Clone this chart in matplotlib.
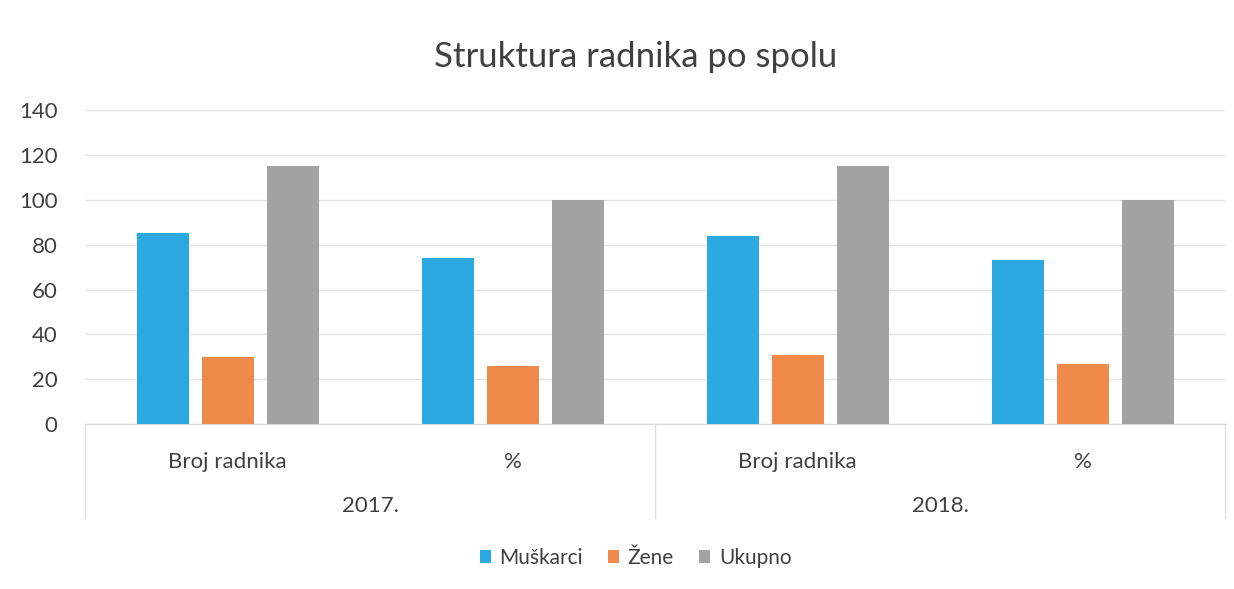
import matplotlib.pyplot as plt
import numpy as np

plt.rcParams['font.family'] = ['Lato', 'DejaVu Sans']

# data
years = ['2017.', '2018.']
categories = ['Broj radnika', '%', 'Broj radnika', '%']
series_names = ['Muškarci', 'Žene', 'Ukupno']
muskarci = [85, 74, 84, 73]
zene = [30, 26, 31, 27]
ukupno = [115, 100, 115, 100]
y_ticks = [0, 20, 40, 60, 80, 100, 120, 140]

colors = ['#2CA9E1', '#F08A4B', '#A3A3A3']
text_color = '#404040'

fig = plt.figure(figsize=(12.34, 5.89), dpi=100)
ax = fig.add_axes([0.069, 0.28, 0.924, 0.533])

x = np.arange(len(categories))
offset = 0.228
width = 0.183
for i, (vals, name) in enumerate(zip([muskarci, zene, ukupno], series_names)):
    ax.bar(x + (i - 1) * offset, vals, width=width, color=colors[i], label=name, zorder=3)

ax.set_xlim(-0.5, len(categories) - 0.5)
ax.set_ylim(0, 140)
ax.set_yticks(y_ticks)
ax.set_yticklabels([str(t) for t in y_ticks], fontsize=16, color=text_color)
ax.yaxis.grid(True, color='#E4E4E4', linewidth=1, zorder=0)
ax.tick_params(axis='y', length=0, pad=20)
ax.tick_params(axis='x', length=0, pad=20)
ax.set_xticks(x)
ax.set_xticklabels(categories, fontsize=16, color=text_color)
for s in ['top', 'right', 'left']:
    ax.spines[s].set_visible(False)
ax.spines['bottom'].set_color('#D9D9D9')

# year row and separators below the axis
for j, yr in enumerate(years):
    ax.text(2 * j + 0.5, -0.26, yr, transform=ax.get_xaxis_transform(),
            ha='center', va='center', fontsize=16, color=text_color)
for b in [-0.5, 1.5, 3.5]:
    ax.plot([b, b], [0, -0.3], transform=ax.get_xaxis_transform(),
            color='#E0E0E0', linewidth=1, clip_on=False)

fig.suptitle('Struktura radnika po spolu', x=0.515, y=0.93, fontsize=25, color=text_color)

fig.legend(loc='center', bbox_to_anchor=(0.515, 0.053), ncol=3, frameon=False,
           fontsize=15, handlelength=0.55, handleheight=0.55, handletextpad=0.4,
           columnspacing=1.2, labelcolor=text_color)

fig.savefig('out.png', dpi=100)
